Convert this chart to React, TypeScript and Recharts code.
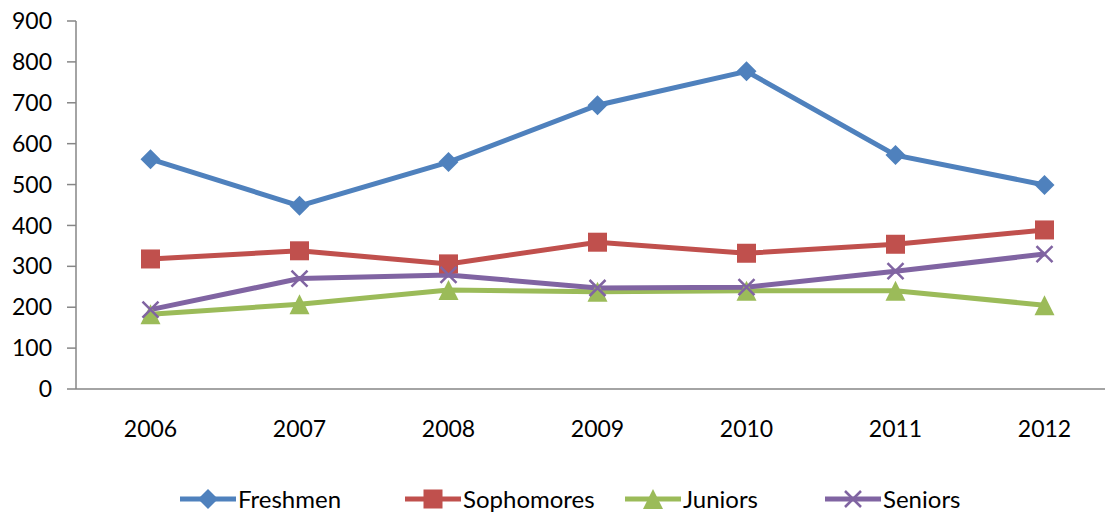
import React from 'react';
import { LineChart, Line, XAxis, YAxis } from 'recharts';

const years = ['2006', '2007', '2008', '2009', '2010', '2011', '2012'];
const freshmen = [562, 448, 555, 694, 777, 572, 499];
const sophomores = [318, 338, 306, 359, 332, 354, 389];
const juniors = [183, 207, 242, 238, 240, 240, 205];
const seniors = [194, 270, 279, 247, 249, 288, 330];
const yTicks = [0, 100, 200, 300, 400, 500, 600, 700, 800, 900];

const data = years.map((year, i) => ({
  year,
  freshmen: freshmen[i],
  sophomores: sophomores[i],
  juniors: juniors[i],
  seniors: seniors[i],
}));

const COLORS = {
  freshmen: '#4F81BD',
  sophomores: '#C0504D',
  juniors: '#9BBB59',
  seniors: '#8064A2',
};

const FONT = 'Lato, "Open Sans", sans-serif';

// marker shapes, Excel style
const Marker = ({ shape, cx, cy, color }: any) => {
  if (shape === 'diamond') {
    const r = 10;
    return <path d={`M${cx},${cy - r}L${cx + r},${cy}L${cx},${cy + r}L${cx - r},${cy}Z`} fill={color} />;
  }
  if (shape === 'square') {
    const r = 9.5;
    return <rect x={cx - r} y={cy - r} width={2 * r} height={2 * r} fill={color} />;
  }
  if (shape === 'triangle') {
    const r = 10;
    return <path d={`M${cx},${cy - r}L${cx + r},${cy + r}L${cx - r},${cy + r}Z`} fill={color} />;
  }
  const r = 8;
  return (
    <path
      d={`M${cx - r},${cy - r}L${cx + r},${cy + r}M${cx - r},${cy + r}L${cx + r},${cy - r}`}
      stroke={color}
      strokeWidth={2.5}
      fill="none"
    />
  );
};

const makeDot = (shape: string, color: string) => (props: any) => (
  <Marker key={`${shape}-${props.index}`} shape={shape} cx={props.cx} cy={props.cy} color={color} />
);

const series = [
  { key: 'freshmen', name: 'Freshmen', shape: 'diamond', left: 180 },
  { key: 'sophomores', name: 'Sophomores', shape: 'square', left: 405 },
  { key: 'juniors', name: 'Juniors', shape: 'triangle', left: 625 },
  { key: 'seniors', name: 'Seniors', shape: 'x', left: 825 },
];

const LegendItem = ({ s }: any) => {
  const color = (COLORS as any)[s.key];
  return (
    <div style={{ position: 'absolute', left: s.left, top: 484, display: 'flex', alignItems: 'center' }}>
      <svg width={56} height={30}>
        <line x1={0} y1={15} x2={56} y2={15} stroke={color} strokeWidth={5} strokeLinecap="round" />
        <Marker shape={s.shape} cx={28} cy={15} color={color} />
      </svg>
      <span style={{ fontFamily: FONT, fontSize: 24, color: '#000', marginLeft: 2, lineHeight: '30px' }}>{s.name}</span>
    </div>
  );
};

export default function App() {
  return (
    <div style={{ position: 'absolute', left: 0, top: 0, width: 1105, height: 512, overflow: 'hidden', background: '#fff' }}>
      <LineChart width={1125} height={512} data={data} margin={{ top: 21, right: 6, left: 0, bottom: 63 }}>
        <XAxis
          dataKey="year"
          tickLine={false}
          padding={{ left: 74.5, right: 74.5 }}
          axisLine={{ stroke: '#868686', strokeWidth: 1.5 }}
          tick={{ fill: '#000', fontSize: 23, fontFamily: FONT }}
          tickMargin={26}
          height={60}
        />
        <YAxis
          width={76}
          domain={[0, 900]}
          ticks={yTicks}
          interval={0}
          axisLine={{ stroke: '#868686', strokeWidth: 1.5 }}
          tickLine={{ stroke: '#868686', strokeWidth: 1.5 }}
          tickSize={9}
          tickMargin={15}
          tick={{ fill: '#000', fontSize: 23, fontFamily: FONT }}
        />
        {series.map((s) => (
          <Line
            key={s.key}
            type="linear"
            dataKey={s.key}
            name={s.name}
            stroke={(COLORS as any)[s.key]}
            strokeWidth={5}
            dot={makeDot(s.shape, (COLORS as any)[s.key])}
            activeDot={false}
            isAnimationActive={false}
          />
        ))}
      </LineChart>
      {series.map((s) => (
        <LegendItem key={s.key} s={s} />
      ))}
    </div>
  );
}
